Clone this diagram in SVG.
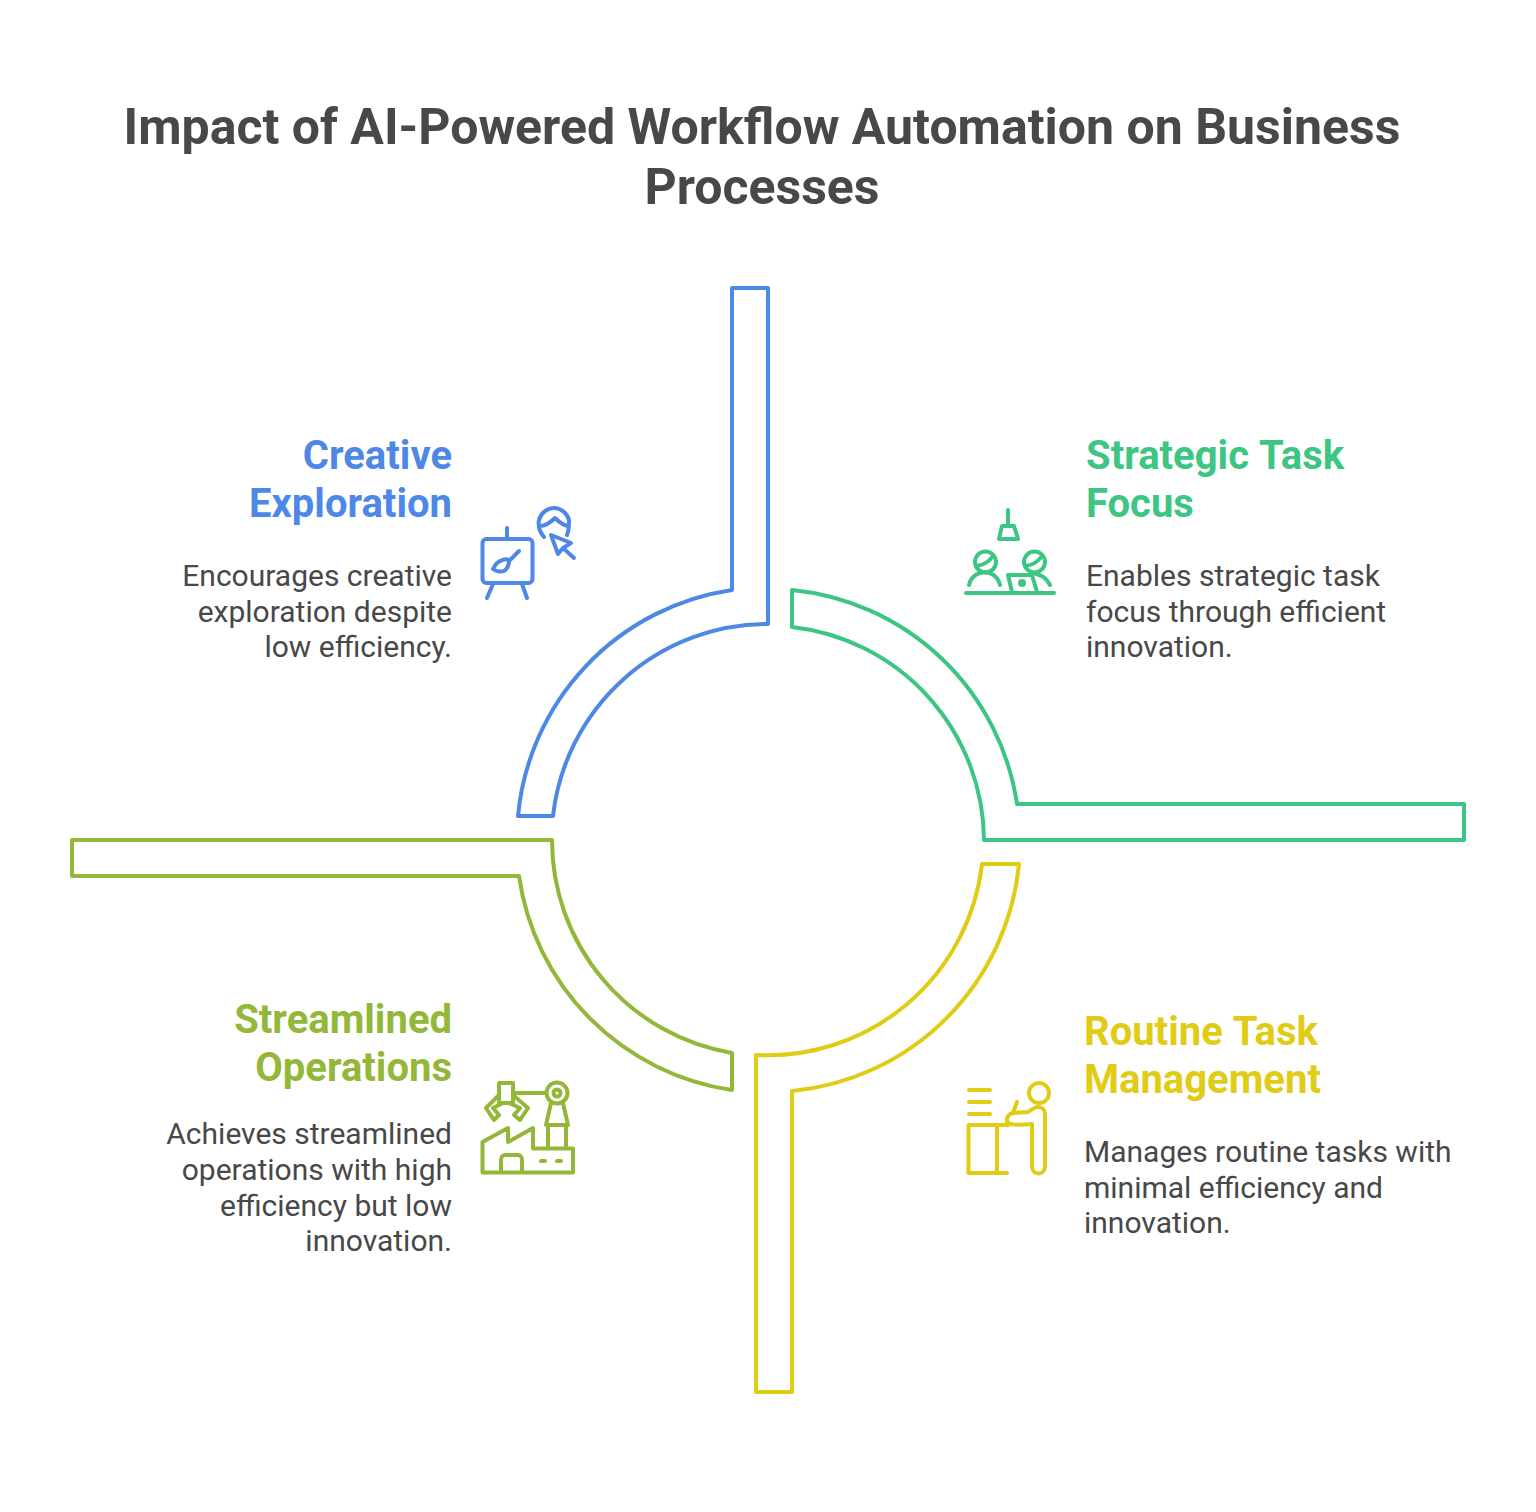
<svg xmlns="http://www.w3.org/2000/svg" width="1536" height="1512" viewBox="0 0 1536 1512">
<style>
text{font-family:Roboto,"Liberation Sans",sans-serif}
.t{font-size:50px;font-weight:700;fill:#484848;text-anchor:middle}
.h{font-size:40px;font-weight:700;word-spacing:1px}
.b{font-size:30px;fill:#484848}
.e{text-anchor:end}
.s{fill:none;stroke-width:4;stroke-linejoin:round;stroke-linecap:round}
.blue{stroke:#4e88e7}.bluet{fill:#4e88e7}
.green{stroke:#3cc583}.greent{fill:#3cc583}
.yellow{stroke:#e0cb15}.yellowt{fill:#e0cb15}
.olive{stroke:#93b739}.olivet{fill:#93b739}
</style>
<rect width="1536" height="1512" fill="#fff"/>
<g id="title"><text class="t" x="762" y="144">Impact of AI-Powered Workflow Automation on Business</text><text class="t" x="762" y="204">Processes</text></g>
<g id="connectors">
<path class="s blue" d="M732 288H768V624A216 216 0 0 0 553 816H518A252 252 0 0 1 732 590Z"/>
<path class="s green" d="M792 590A252 252 0 0 1 1017 804H1464V840H984A216 216 0 0 0 792 627Z"/>
<path class="s yellow" d="M982 864H1019A252 252 0 0 1 792 1091V1392H756V1055A216 216 0 0 0 982 864Z"/>
<path class="s olive" d="M72 840H552A216 216 0 0 0 732 1053V1090A252 252 0 0 1 519 876H72Z"/>
</g>
<g id="node-creative">
<text class="h bluet e" x="452" y="468.500">Creative</text><text class="h bluet e" x="452" y="516.500">Exploration</text>
<text class="b e" x="452" y="586">Encourages creative</text><text class="b e" x="452" y="622">exploration despite</text><text class="b e" x="452" y="657">low efficiency.</text>
<g class="s blue">
<rect x="482.500" y="539" width="50" height="44" rx="4"/><path d="M507 528V539M493 584L487 598M522 584L527 598M519 551L509 561"/>
<path d="M509 560C505 558 499 561 496 564L493 569C497 572 502 572 504 571C507 569 509 565 509 560Z"/>
<path d="M544 537C539 531 538 525 539 520C541 513 547 508 554 508C561 508 567 513 569 520C569 525 569 531 567 535M540 526C546 526 551 522 555 518C559 522 564 526 569 526"/>
<path d="M551 535L558 554L563 548L571 543ZM563 548L574 558"/>
</g></g>
<g id="node-strategic">
<text class="h greent" x="1086" y="468.500">Strategic Task</text><text class="h greent" x="1086" y="516.500">Focus</text>
<text class="b" x="1086" y="586">Enables strategic task</text><text class="b" x="1086" y="622">focus through efficient</text><text class="b" x="1086" y="657">innovation.</text>
<g class="s green">
<path d="M1008 510V525M1002 526H1014L1018 539H999ZM966 593H1054"/>
<circle cx="985.500" cy="562" r="10.500"/><circle cx="1034.500" cy="562" r="10.500"/>
<path d="M977 566C983 565 989 562 993 556M1026 566C1032 565 1038 562 1042 556M969 585C973 568 996 568 1000 585M1036 574C1042 575 1047 579 1050 585"/>
<path d="M1012 592L1008 575H1032L1037 592"/><circle cx="1022" cy="583" r="2" fill="#3cc583"/>
</g></g>
<g id="node-streamlined">
<text class="h olivet e" x="452" y="1032.500">Streamlined</text><text class="h olivet e" x="452" y="1080.500">Operations</text>
<text class="b e" x="452" y="1144">Achieves streamlined</text><text class="b e" x="452" y="1180">operations with high</text><text class="b e" x="452" y="1216">efficiency but low</text><text class="b e" x="452" y="1251">innovation.</text>
<g class="s olive">
<path d="M482.500 1172.500V1142L508 1128V1142L533 1128V1148.500H573V1172.500ZM501 1172V1160C501 1157 503 1155 505 1155H518C520 1155 522 1157 522 1160V1172M541 1161H545M557 1161H561"/>
<path d="M499 1083H513V1103H499ZM513 1093H546"/>
<circle cx="557" cy="1093" r="10.500"/><circle cx="557" cy="1093" r="3.500"/>
<path d="M551 1103L546 1125H568L563 1103M548 1125V1148M566 1125V1148"/>
<path d="M499 1095L486 1108L494 1120L499 1115L493 1108L503 1103M513 1095L528 1108L520 1120L514 1115L520 1108L509 1103"/>
</g></g>
<g id="node-routine">
<text class="h yellowt" x="1084" y="1044.500">Routine Task</text><text class="h yellowt" x="1084" y="1092.500">Management</text>
<text class="b" x="1084" y="1162">Manages routine tasks with</text><text class="b" x="1084" y="1198">minimal efficiency and</text><text class="b" x="1084" y="1233">innovation.</text>
<g class="s yellow">
<path d="M969 1090H990M969 1102H990M969 1114H990"/>
<circle cx="1039" cy="1093" r="10"/>
<path d="M1008 1125H968.500V1173H1007M997 1125V1173"/>
<path d="M1017 1102L1013 1113"/>
<path d="M1032 1124C1024 1125 1016 1125 1010 1124C1005 1122 1006 1115 1013 1113L1028 1112C1032 1110 1034 1107 1038 1107C1042 1107 1045 1110 1045 1114V1166C1045 1176 1032 1176 1032 1166V1124"/>
</g></g>
</svg>
